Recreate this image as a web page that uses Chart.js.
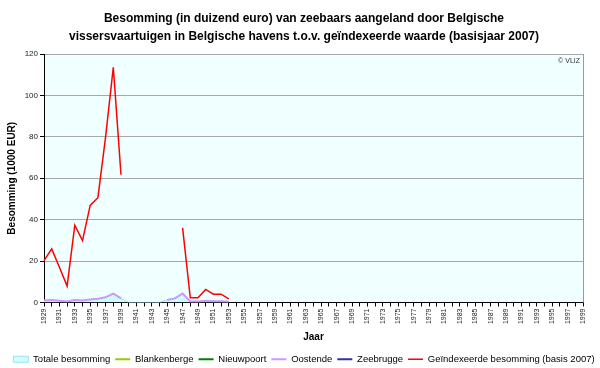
<!DOCTYPE html>
<html>
<head>
<meta charset="utf-8">
<script src="https://cdn.jsdelivr.net/npm/chart.js@4"></script>
<style>
  html, body { margin: 0; padding: 0; background: #fff; }
  #wrap { width: 600px; height: 368px; }
</style>
</head>
<body>
<div id="wrap"><canvas id="chart"></canvas></div>
<script>
// years on the x axis
const years = ['1929','1930','1931','1932','1933','1934','1935','1936','1937','1938','1939',
  '1940','1941','1942','1943','1944','1945','1946','1947','1948','1949','1950','1951','1952','1953',
  '1954','1955','1956','1957','1958','1959','1960','1961','1962','1963','1964','1965','1966','1967',
  '1968','1969','1970','1971','1972','1973','1974','1975','1976','1977','1978','1979','1980','1981',
  '1982','1983','1984','1985','1986','1987','1988','1989','1990','1991','1992','1993','1994','1995',
  '1996','1997','1998','1999'];

// values in 1000 EUR, 1929 .. 1953 (nothing after)
const totaal = [1.0, 1.2, 0.9, 0.5, 1.2, 1.0, 1.4, 1.8, 2.5, 4.5, 2.0,
  0, 0, 0, 0, 0, 1.3, 2.2, 4.6, 0.6, 0.6, 0.9, 0.7, 0.7, 0.5];
const blankenberge = [];
const nieuwpoort = [];
const oostende = [1.0, 1.2, 0.9, 0.5, 1.2, 1.0, 1.4, 1.8, 2.5, 4.3, 2.0,
  null, null, null, null, null, 1.2, 2.0, 4.3, 0.5, 0.5, 0.8, 0.6, 0.6, 0.4];
const zeebrugge = [];
const geindexeerd = [20.2, 25.9, 17, 7.9, 37.3, 29.9, 46.9, 50.6, 80, 113.6, 61.7,
  null, null, null, null, null, null, null, 36, 2.3, 2.3, 6.3, 4, 4, 1.8];

const yTicks = [0, 20, 40, 60, 80, 100, 120];

const FONT = "'Liberation Sans', Arial, sans-serif";

// plot background, frame and the little copyright note
const plotArea = {
  id: 'plotArea',
  beforeLayout(chart) {
    // legend keeps 10px of slack below its row, take most of it back
    const lg = chart.legend;
    if (lg && !lg._trimmed) {
      const fit = lg.fit.bind(lg);
      lg.fit = function() { fit(); this.height -= 6; };
      lg._trimmed = true;
    }
  },
  beforeDraw(chart) {
    const a = chart.chartArea;
    const ctx = chart.ctx;
    ctx.save();
    ctx.fillStyle = '#f0ffff';
    ctx.fillRect(a.left, a.top, a.right - a.left, a.bottom - a.top);
    ctx.restore();
  },
  afterDraw(chart) {
    const a = chart.chartArea;
    const ctx = chart.ctx;
    ctx.save();
    ctx.strokeStyle = '#9a9a9a';
    ctx.lineWidth = 1;
    ctx.beginPath();
    ctx.moveTo(Math.round(a.right) + 0.5, a.top);
    ctx.lineTo(Math.round(a.right) + 0.5, a.bottom);
    ctx.stroke();
    ctx.fillStyle = '#333';
    ctx.font = '7px ' + FONT;
    ctx.textAlign = 'right';
    ctx.textBaseline = 'middle';
    ctx.fillText('\u00A9 VLIZ', a.right - 3, a.top + 7);
    ctx.restore();
  }
};

const ctx = document.getElementById('chart').getContext('2d');

new Chart(ctx, {
  type: 'line',
  data: {
    labels: years,
    datasets: [
      {
        label: 'Totale besomming',
        data: totaal,
        backgroundColor: '#ccffff',
        borderColor: '#a8dcec',
        borderWidth: 1,
        fill: 'origin',
        pointRadius: 0,
        pointStyle: 'rect',
        tension: 0,
        order: 9
      },
      {
        label: 'Blankenberge',
        data: blankenberge,
        borderColor: '#99cc00',
        backgroundColor: '#99cc00',
        borderWidth: 2,
        pointRadius: 0,
        pointStyle: 'line',
        fill: false
      },
      {
        label: 'Nieuwpoort',
        data: nieuwpoort,
        borderColor: '#008000',
        backgroundColor: '#008000',
        borderWidth: 2,
        pointRadius: 0,
        pointStyle: 'line',
        fill: false
      },
      {
        label: 'Oostende',
        data: oostende,
        borderColor: '#cc99ff',
        backgroundColor: '#cc99ff',
        borderWidth: 2,
        pointRadius: 0,
        pointStyle: 'line',
        fill: false
      },
      {
        label: 'Zeebrugge',
        data: zeebrugge,
        borderColor: '#333399',
        backgroundColor: '#333399',
        borderWidth: 2,
        pointRadius: 0,
        pointStyle: 'line',
        fill: false
      },
      {
        label: 'Geïndexeerde besomming (basis 2007)',
        data: geindexeerd,
        borderColor: '#ff0000',
        backgroundColor: '#ff0000',
        borderWidth: 1.5,
        pointRadius: 0,
        pointStyle: 'line',
        fill: false
      }
    ]
  },
  options: {
    responsive: true,
    maintainAspectRatio: false,
    animation: false,
    spanGaps: false,
    layout: {
      padding: { left: 8, right: 0, top: 10, bottom: 0 }
    },
    plugins: {
      title: {
        display: true,
        text: ['Besomming (in duizend euro) van zeebaars aangeland door Belgische',
               'vissersvaartuigen in Belgische havens t.o.v. geïndexeerde waarde (basisjaar 2007)'],
        color: '#000',
        font: { family: FONT, size: 12, weight: 'bold', lineHeight: 1.5 },
        padding: { top: 0, bottom: 8 }
      },
      legend: {
        position: 'bottom',
        labels: {
          usePointStyle: true,
          pointStyleWidth: 15,
          boxHeight: 6,
          padding: 5,
          color: '#000',
          font: { family: FONT, size: 9.5 },
          sort: (a, b) => a.datasetIndex - b.datasetIndex
        }
      },
      tooltip: { enabled: false }
    },
    scales: {
      x: {
        type: 'category',
        offset: false,
        grid: {
          display: true,
          drawOnChartArea: false,
          drawTicks: true,
          tickLength: 4,
          tickColor: '#000'
        },
        border: { display: true, color: '#000' },
        ticks: {
          autoSkip: false,
          minRotation: 90,
          maxRotation: 90,
          padding: 2,
          color: '#222',
          font: { family: FONT, size: 7 },
          callback: function(value, index) {
            return index % 2 === 0 ? years[index] : '';
          }
        },
        title: {
          display: true,
          text: 'Jaar',
          color: '#000',
          font: { family: FONT, size: 10, weight: 'bold' },
          padding: { top: 2, bottom: 6 }
        },
        afterFit: function(scale) {
          scale.height = 47;
        }
      },
      y: {
        min: 0,
        max: 120,
        afterBuildTicks: function(scale) {
          scale.ticks = yTicks.map(v => ({ value: v }));
        },
        grid: {
          color: '#a8a8a8',
          lineWidth: 1,
          drawTicks: true,
          tickLength: 4,
          tickColor: '#000'
        },
        border: { display: true, color: '#000' },
        ticks: {
          padding: 2,
          color: '#222',
          font: { family: FONT, size: 8 }
        },
        title: {
          display: true,
          text: 'Besomming (1000 EUR)',
          color: '#000',
          font: { family: FONT, size: 10, weight: 'bold' },
          padding: { top: -2, bottom: 0 }
        },
        afterFit: function(scale) {
          scale.width = 36;
        }
      },
      // empty strip on the right so the plot stops short of the edge
      rightGap: {
        type: 'linear',
        position: 'right',
        display: true,
        grid: { display: false, drawTicks: false },
        border: { display: false },
        ticks: { display: false },
        afterFit: function(scale) {
          scale.width = 17;
        }
      }
    }
  },
  plugins: [plotArea]
});
</script>
</body>
</html>
